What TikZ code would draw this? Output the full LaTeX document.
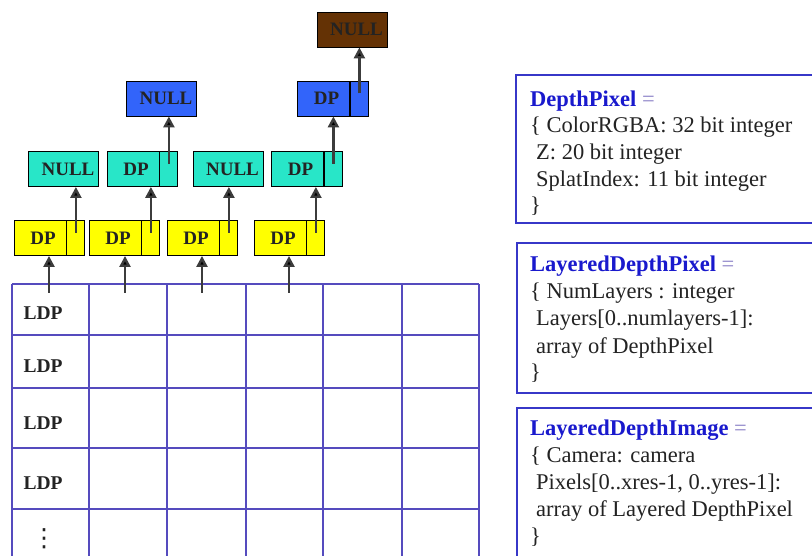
\documentclass[tikz,border=0pt]{standalone}
\usepackage{fontspec}
\setmainfont{Liberation Serif}
\newfontfamily\symbolfont{DejaVu Sans}
\usetikzlibrary{arrows.meta}

\definecolor{gridblue}{RGB}{85,75,190}
\definecolor{panelblue}{RGB}{55,55,200}
\definecolor{titleblue}{RGB}{25,25,205}
\definecolor{eqgray}{RGB}{140,130,200}
\definecolor{dpyellow}{RGB}{255,255,0}
\definecolor{dpcyan}{RGB}{40,230,200}
\definecolor{dpblue}{RGB}{50,100,250}
\definecolor{dpbrown}{RGB}{100,50,5}
\definecolor{ink}{RGB}{35,35,35}
\definecolor{linkgray}{RGB}{60,60,60}

% labels inside the list cells sit a little right of centre
\newcommand\dptext{\hspace*{6pt}DP}
\newcommand\nulltext{\hspace*{9pt}NULL}

\begin{document}
\begin{tikzpicture}[x=1pt,y=-1pt,
  cell/.style={draw=black, line width=0.9pt, inner sep=0pt, minimum height=35pt,
    font=\fontsize{19}{19}\selectfont\bfseries, text=ink},
  datacell/.style={cell, minimum width=52pt},
  ptrcell/.style={cell, minimum width=18pt, anchor=west},
  nullcell/.style={cell, minimum width=70pt},
  link/.style={draw=linkgray, line width=2.4pt, -{Triangle[length=11pt,width=11pt,fill=black]}},
  gridline/.style={draw=gridblue, line width=1.3pt},
  ldp/.style={inner sep=0pt, font=\fontsize{19.5}{19.5}\selectfont\bfseries, text=ink},
  panel/.style={draw=panelblue, line width=1.8pt, anchor=north west, inner sep=0pt,
    minimum width=320pt},
  ptext/.style={anchor=base west, inner sep=0pt, font=\fontsize{22.5}{27}\selectfont, text=ink},
  ptitle/.style={ptext}
]
\useasboundingbox (0,0) rectangle (812,556);
\fill[white] (0,0) rectangle (812,556);

% ---------- image grid of layered depth pixels ----------
\foreach \x in {12,89,167,246,323,402,479}
  \draw[gridline] (\x,284) -- (\x,560);
\foreach \y in {284,335,388,448,509}
  \draw[gridline] (12,\y) -- (479,\y);

\node[ldp] (ldp1) at (43,313) {LDP};
\node[ldp] (ldp2) at (43,366) {LDP};
\node[ldp] (ldp3) at (43,423) {LDP};
\node[ldp] (ldp4) at (43,483) {LDP};
\node[inner sep=0pt, font=\fontsize{25}{25}\symbolfont, text=ink] (more) at (44,539) {⋮};

% ---------- first layer (yellow) ----------
\node[datacell, fill=dpyellow] (y1) at (40,238) {\dptext};
\node[ptrcell, fill=dpyellow] (y1p) at (y1.east) {};
\node[datacell, fill=dpyellow] (y2) at (115,238) {\dptext};
\node[ptrcell, fill=dpyellow] (y2p) at (y2.east) {};
\node[datacell, fill=dpyellow] (y3) at (193,238) {\dptext};
\node[ptrcell, fill=dpyellow] (y3p) at (y3.east) {};
\node[datacell, fill=dpyellow] (y4) at (280,238) {\dptext};
\node[ptrcell, fill=dpyellow] (y4p) at (y4.east) {};

% ---------- second layer (cyan) ----------
\node[nullcell, fill=dpcyan] (c1) at (63.5,169) {\nulltext};
\node[datacell, fill=dpcyan] (c2) at (133,169) {\dptext};
\node[ptrcell, fill=dpcyan] (c2p) at (c2.east) {};
\node[nullcell, fill=dpcyan] (c3) at (228,169) {\nulltext};
\node[datacell, fill=dpcyan] (c4) at (297.5,169) {\dptext};
\node[ptrcell, fill=dpcyan] (c4p) at (c4.east) {};

% ---------- third layer (blue) ----------
\node[nullcell, fill=dpblue] (b1) at (161.5,98.5) {\nulltext};
\node[datacell, fill=dpblue] (b2) at (323.5,98.5) {\dptext};
\node[ptrcell, fill=dpblue] (b2p) at (b2.east) {};

% ---------- fourth layer (brown) ----------
\node[nullcell, fill=dpbrown] (r1) at (352,29.5) {\nulltext};

% ---------- pointers ----------
\coordinate (g1) at (49,293);
\coordinate (g2) at (125,293);
\coordinate (g3) at (202,293);
\coordinate (g4) at (289,293);
\draw[link] (g1) -- (g1 |- y1.south);
\draw[link] (g2) -- (g2 |- y2.south);
\draw[link] (g3) -- (g3 |- y3.south);
\draw[link] (g4) -- (g4 |- y4.south);

\draw[link] ([yshift=5pt]y1p.center) -- (y1p.center |- c1.south);
\draw[link] ([yshift=5pt]y2p.center) -- (y2p.center |- c2.south);
\draw[link] ([yshift=5pt]y3p.center) -- (y3p.center |- c3.south);
\draw[link] ([yshift=5pt]y4p.center) -- (y4p.center |- c4.south);

\draw[link] ([yshift=5pt]c2p.center) -- (c2p.center |- b1.south);
\draw[link] ([yshift=5pt]c4p.center) -- (c4p.center |- b2.south);

\draw[link] ([yshift=5pt]b2p.center) -- (b2p.center |- r1.south);

% ---------- type definitions ----------
\node[panel, minimum height=148pt] (pixbox) at (515,74) {};
\node[ptitle] (pix0) at (530,106.5) {{\color{titleblue}\bfseries DepthPixel} {\color{eqgray}=}};
\node[ptext] (pix1) at (530,133) {\{ ColorRGBA: 32 bit integer};
\node[ptext] (pix2) at (536,160) {Z: 20 bit integer};
\node[ptext] (pix3) at (536,187) {SplatIndex: 11 bit integer};
\node[ptext] (pix4) at (530,213) {\}};

\node[panel, minimum height=150pt] (ldpbox) at (516,242) {};
\node[ptitle] (ldp0) at (530,272) {{\color{titleblue}\bfseries LayeredDepthPixel} {\color{eqgray}=}};
\node[ptext] (ldpl1) at (530,299) {\{ NumLayers : integer};
\node[ptext] (ldpl2) at (536,326) {Layers[0..numlayers-1]:};
\node[ptext] (ldpl3) at (536,353) {array of DepthPixel};
\node[ptext] (ldpl4) at (530,380) {\}};

\node[panel, minimum height=170pt] (ldibox) at (516,407) {};
\node[ptitle] (ldi0) at (530,435) {{\color{titleblue}\bfseries LayeredDepthImage} {\color{eqgray}=}};
\node[ptext] (ldi1) at (530,462) {\{ Camera: camera};
\node[ptext] (ldi2) at (536,489) {Pixels[0..xres-1, 0..yres-1]:};
\node[ptext] (ldi3) at (536,516) {array of Layered DepthPixel};
\node[ptext] (ldi4) at (530,543) {\}};
\end{tikzpicture}
\end{document}
